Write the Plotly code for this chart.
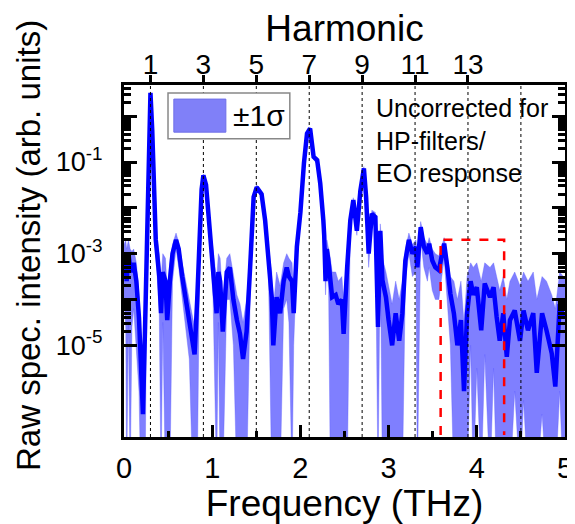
import plotly.graph_objects as go

# ---------------- data ----------------
freq_thz = [0.00, 0.02, 0.03, 0.05, 0.07, 0.09, 0.11, 0.14, 0.17, 0.19, 0.215, 0.24, 0.26, 0.28, 0.30,
            0.32, 0.34, 0.36, 0.38, 0.40, 0.42, 0.44, 0.47, 0.49, 0.52, 0.55, 0.59, 0.62, 0.66, 0.70,
            0.74, 0.78, 0.80, 0.83, 0.86, 0.88, 0.90, 0.93, 0.96, 0.98, 1.01, 1.05, 1.07, 1.09, 1.12,
            1.165, 1.20, 1.24, 1.28, 1.315, 1.35, 1.39, 1.43, 1.47, 1.505, 1.56, 1.60, 1.636, 1.675, 1.693,
            1.73, 1.77, 1.81, 1.845, 1.87, 1.905, 1.924, 1.96, 2.00, 2.04, 2.075, 2.11, 2.15, 2.19, 2.225,
            2.26, 2.27, 2.285, 2.30, 2.32, 2.34, 2.36, 2.40, 2.43, 2.47, 2.49, 2.53, 2.566, 2.60, 2.64,
            2.68, 2.72, 2.745, 2.774, 2.81, 2.85, 2.88, 2.906, 2.93, 2.97, 3.00, 3.04, 3.08, 3.12, 3.156,
            3.19, 3.23, 3.27, 3.31, 3.326, 3.364, 3.40, 3.44, 3.46, 3.495, 3.53, 3.57, 3.63, 3.666, 3.70,
            3.74, 3.78, 3.82, 3.855, 3.89, 3.93, 3.96, 4.00, 4.05, 4.09, 4.15, 4.19, 4.225, 4.26, 4.30,
            4.34, 4.376, 4.43, 4.49, 4.53, 4.58, 4.64, 4.68, 4.74, 4.79, 4.85, 4.89, 4.94, 4.98, 5.00]

# intensities as decimal exponents (log10 of arb. units)
log10_mean = [-3.1, -3.3, -3.6, -3.0, -3.3, -3.4, -3.2, -3.6, -4.4, -5.6, -6.5, -4.5, -2.5, -0.5, 0.51,
              -0.3, -1.4, -2.7, -3.1, -3.5, -4.3, -3.4, -3.6, -4.45, -3.6, -3.0, -2.7, -2.9, -3.5, -4.0,
              -4.5, -4.9, -5.2, -4.0, -2.5, -1.6, -1.29, -1.5, -2.2, -2.7, -3.3, -4.3, -3.4, -3.6, -4.7,
              -3.4, -3.3, -4.0, -4.45, -4.75, -5.3, -4.7, -3.3, -1.76, -1.55, -1.7, -2.27, -3.0, -3.95, -5.0,
              -3.95, -4.3, -3.6, -3.3, -3.5, -3.6, -4.3, -2.85, -2.1, -1.03, -0.38, -0.27, -0.89, -0.96, -1.47,
              -2.27, -2.6, -3.6, -2.9, -3.2, -3.6, -3.95, -3.9, -4.1, -4.0, -4.75, -3.3, -2.27, -1.83, -2.5,
              -1.62, -1.14, -1.76, -3.0, -2.13, -2.2, -4.6, -2.5, -3.58, -3.95, -4.45, -5.0, -4.3, -4.9, -4.3,
              -3.15, -2.7, -3.0, -2.85, -3.3, -2.42, -2.85, -3.0, -2.78, -3.15, -3.3, -3.36, -2.78, -3.3, -3.87,
              -4.3, -5.0, -4.45, -6.0, -4.3, -3.6, -3.9, -3.73, -4.67, -3.65, -3.95, -3.73, -4.38, -4.9, -4.3,
              -5.25, -4.45, -4.24, -4.9, -4.24, -4.67, -4.3, -5.6, -4.3, -4.67, -5.18, -5.9, -4.1, -4.38, -4.3]

log10_upper = [-2.8, -2.7, -2.9, -2.7, -2.9, -2.95, -2.9, -3.2, -3.9, -4.8, -5.8, -3.9, -2.4, -0.45, 0.53,
               -0.25, -1.3, -2.55, -2.7, -3.0, -3.6, -3.0, -3.1, -3.8, -3.2, -2.8, -2.55, -2.75, -3.2, -3.6,
               -4.0, -4.4, -4.6, -3.7, -2.4, -1.55, -1.26, -1.45, -2.1, -2.5, -2.9, -3.6, -3.0, -3.1, -4.0,
               -3.1, -3.0, -3.5, -3.9, -4.1, -4.5, -4.0, -3.1, -1.7, -1.5, -1.65, -2.2, -2.85, -3.4, -4.2,
               -3.4, -3.7, -3.2, -3.0, -3.1, -3.2, -3.8, -2.7, -2.05, -1.0, -0.36, -0.25, -0.85, -0.9, -1.4,
               -2.2, -2.45, -3.2, -2.7, -2.9, -3.1, -3.4, -3.4, -3.6, -3.5, -4.0, -3.0, -2.2, -1.78, -2.4,
               -1.57, -1.1, -1.7, -2.8, -2.05, -2.1, -3.6, -2.35, -3.1, -3.4, -3.7, -4.1, -3.6, -4.0, -3.6,
               -2.9, -2.55, -2.8, -2.7, -3.0, -2.3, -2.65, -2.8, -2.65, -2.9, -3.0, -3.05, -2.65, -3.05, -3.5,
               -3.6, -4.0, -3.6, -4.5, -3.5, -3.2, -3.3, -3.2, -3.6, -3.2, -3.3, -3.2, -3.5, -3.8, -3.5,
               -4.0, -3.6, -3.4, -3.7, -3.4, -3.6, -3.4, -4.0, -3.5, -3.6, -3.9, -4.2, -3.4, -3.5, -3.5]

log10_lower = [-4.0, -4.6, -8, -4.5, -8, -4.6, -4.2, -5.0, -6.0, -8, -8, -8, -2.7, -0.55, 0.48,
               -0.35, -1.5, -2.9, -3.6, -4.3, -8, -4.5, -8, -8, -8, -3.6, -2.9, -3.3, -4.0, -4.6,
               -5.3, -8, -8, -8, -2.7, -1.65, -1.33, -1.55, -2.3, -3.0, -4.0, -8, -4.5, -8, -8,
               -4.0, -4.0, -5.0, -8, -8, -8, -8, -4.0, -1.85, -1.6, -1.75, -2.35, -3.2, -8, -8,
               -8, -8, -4.2, -4.0, -4.5, -8, -5.0, -3.1, -2.2, -1.08, -0.42, -0.3, -0.95, -1.05, -1.55,
               -2.35, -2.8, -3.9, -3.2, -3.8, -8, -8, -8, -8, -8, -8, -8, -2.4, -1.9, -2.6,
               -1.7, -1.2, -1.85, -3.3, -2.3, -2.4, -8, -2.8, -8, -8, -8, -8, -8, -8, -8,
               -3.6, -3.0, -3.5, -3.4, -8, -2.7, -3.3, -3.6, -3.3, -3.8, -4.0, -4.0, -3.1, -4.0, -5.0,
               -8, -8, -8, -8, -8, -5.0, -8, -5.5, -8, -5.2, -8, -5.5, -8, -8, -8,
               -8, -8, -6.0, -8, -6.2, -8, -8, -8, -6.5, -8, -8, -8, -6.0, -8, -8]

fundamental_thz = 0.3
harmonic_orders = [1, 3, 5, 7, 9, 11, 13, 15]        # dotted guide lines
labeled_harmonics = [1, 3, 5, 7, 9, 11, 13]           # top-axis tick labels
x_tick_vals = [0, 1, 2, 3, 4, 5]
x_minor_vals = [0.5, 1.5, 2.5, 3.5, 4.5]
y_major_vals = [1e0, 1e-1, 1e-2, 1e-3, 1e-4, 1e-5]
y_major_text = ["", "10<sup>-1</sup>", "", "10<sup>-3</sup>", "", "10<sup>-5</sup>"]
legend_label = "±1σ"
note_text = "Uncorrected for<br>HP-filters/<br>EO response"
box_freq = [3.59, 4.31]
box_intensity = [1.1e-7, 2e-3]

# ---------------- build ----------------
mean = [10 ** v for v in log10_mean]
upper = [10 ** v for v in log10_upper]
lower = [10 ** v for v in log10_lower]
y_minor_vals = [k * d for d in y_major_vals for k in range(2, 10) if k * d < 4.7]

FONT = "Liberation Sans, Arial, sans-serif"
BAND = "rgba(0,0,255,0.5)"
BLUE = "rgb(0,0,255)"

fig = go.Figure()
fig.add_trace(go.Scatter(x=freq_thz, y=upper, mode="lines", line=dict(width=0.6, color="rgba(90,90,255,0.6)"),
                         hoverinfo="skip", showlegend=False))
fig.add_trace(go.Scatter(x=freq_thz, y=lower, mode="lines", line=dict(width=0.6, color="rgba(90,90,255,0.6)"),
                         fill="tonexty", fillcolor=BAND, hoverinfo="skip", showlegend=False))
fig.add_trace(go.Scatter(x=freq_thz, y=mean, mode="lines", line=dict(width=4.5, color=BLUE),
                         showlegend=False))
# red dashed highlight box
fig.add_trace(go.Scatter(x=[box_freq[0], box_freq[0], box_freq[1], box_freq[1]],
                         y=[box_intensity[0], box_intensity[1], box_intensity[1], box_intensity[0]],
                         mode="lines", line=dict(color="red", width=2.5, dash="dash"),
                         hoverinfo="skip", showlegend=False))
# invisible trace to activate the top (harmonic) axis
fig.add_trace(go.Scatter(x=[fundamental_thz * h for h in labeled_harmonics],
                         y=[1.0] * len(labeled_harmonics), xaxis="x2", mode="markers",
                         marker=dict(opacity=0), hoverinfo="skip", showlegend=False))

shapes = []
for h in harmonic_orders:
    shapes.append(dict(type="line", xref="x", yref="paper", x0=fundamental_thz * h, x1=fundamental_thz * h,
                       y0=0, y1=1, line=dict(color="black", width=1, dash="dot"), layer="above"))
# legend box + swatch
shapes.append(dict(type="rect", xref="paper", yref="paper", x0=0.0998, x1=0.376, y0=0.847, y1=0.977,
                   line=dict(color="#888888", width=1.5), fillcolor="white", layer="above"))
shapes.append(dict(type="rect", xref="paper", yref="paper", x0=0.113, x1=0.231, y0=0.866, y1=0.960,
                   line=dict(color="#6f6fe8", width=1), fillcolor="#8080f8", layer="above"))

annotations = [
    dict(text=legend_label, xref="paper", yref="paper", x=0.243, y=0.913, xanchor="left", yanchor="middle",
         showarrow=False, font=dict(family=FONT, size=30, color="black")),
    dict(text=note_text, xref="paper", yref="paper", x=0.566, y=0.98, xanchor="left", yanchor="top",
         align="left", showarrow=False, font=dict(family=FONT, size=25, color="black")),
    dict(text="Raw spec. intensity (arb. units)", xref="paper", yref="paper", x=-0.218, y=0.545,
         xanchor="center", yanchor="middle", textangle=-90, showarrow=False,
         font=dict(family=FONT, size=33, color="black")),
]

# the page body adds an 8 px offset, so the figure is 8 px smaller and margins compensate
fig.update_layout(
    width=567, height=516,
    margin=dict(l=116, r=10, t=77, b=87, autoexpand=False),
    paper_bgcolor="white", plot_bgcolor="white",
    showlegend=False,
    font=dict(family=FONT, color="black"),
    shapes=shapes, annotations=annotations,
    xaxis=dict(range=[0, 5], tickvals=x_tick_vals, ticks="inside", ticklen=12, tickwidth=3,
               tickcolor="black", showline=True, linewidth=3, linecolor="black", mirror=True,
               showgrid=False, zeroline=False, ticklabelstandoff=3, automargin=False,
               tickfont=dict(family=FONT, size=29),
               minor=dict(tickmode="array", tickvals=x_minor_vals, ticks="inside", ticklen=6,
                          tickwidth=3, tickcolor="black", showgrid=False),
               title=dict(text="Frequency (THz)", font=dict(family=FONT, size=37), standoff=0)),
    xaxis2=dict(range=[0, 5], overlaying="x", side="top", anchor="y",
                tickvals=[fundamental_thz * h for h in labeled_harmonics],
                ticktext=[str(h) for h in labeled_harmonics],
                ticks="outside", ticklen=7, tickwidth=2.5, tickcolor="black",
                showline=True, linewidth=3, linecolor="black", showgrid=False, zeroline=False,
                ticklabelstandoff=-10,
                automargin=False, tickfont=dict(family=FONT, size=28),
                title=dict(text="Harmonic", font=dict(family=FONT, size=37), standoff=4)),
    yaxis=dict(type="log", range=[-7.0, 0.68], tickvals=y_major_vals, ticktext=y_major_text,
               ticks="inside", ticklen=13, tickwidth=3, tickcolor="black",
               showline=True, linewidth=3, linecolor="black", mirror="ticks",
               showgrid=False, zeroline=False, ticklabelstandoff=13, automargin=False,
               tickfont=dict(family=FONT, size=27),
               minor=dict(tickmode="array", tickvals=y_minor_vals, ticks="inside", ticklen=7,
                          tickwidth=2.5, tickcolor="black", showgrid=False)),
)

fig.write_html("out.html")
